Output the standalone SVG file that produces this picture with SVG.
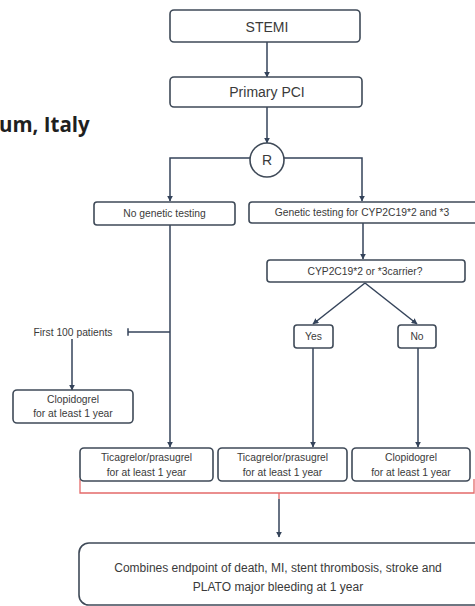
<svg xmlns="http://www.w3.org/2000/svg" width="475" height="606" viewBox="0 0 475 606">
<defs>
<marker id="ah" viewBox="0 0 10 10" refX="9" refY="5" markerWidth="6" markerHeight="6" orient="auto" markerUnits="userSpaceOnUse">
<path d="M0,0 L10,5 L0,10 z" fill="#34435a"/>
</marker>
<marker id="tick" viewBox="0 0 4 10" refX="2" refY="5" markerWidth="3" markerHeight="8" orient="auto" markerUnits="userSpaceOnUse">
<line x1="2" y1="0" x2="2" y2="10" stroke="#34435a" stroke-width="2"/>
</marker>
<style>
.box{fill:#ffffff;stroke:#3f4a58;stroke-width:1.6}
.ln{fill:none;stroke:#34435a;stroke-width:1.5}
.red{fill:none;stroke:#e46a6a;stroke-width:1.3}
.t{font-family:"Liberation Sans",Arial,sans-serif;fill:#3a3a3a;text-anchor:middle}
.big{font-size:14px}
.sm{font-size:10.3px}
.md{font-size:12px}
</style>
</defs>
<rect width="475" height="606" fill="#ffffff"/>
<text x="-1" y="132" font-family="'Open Sans','Liberation Sans',sans-serif" font-weight="bold" font-size="20.5px" fill="#1f1f1f">um, Italy</text>

<g id="connectors">
<line class="ln" x1="267" y1="42" x2="267" y2="77" marker-end="url(#ah)"/>
<line class="ln" x1="267" y1="107" x2="267" y2="143" marker-end="url(#ah)"/>
<polyline class="ln" points="250,158 170,158 170,201" marker-end="url(#ah)"/>
<polyline class="ln" points="284,158 362,158 362,201" marker-end="url(#ah)"/>
<line class="ln" x1="363" y1="223" x2="363" y2="259" marker-end="url(#ah)"/>
<line class="ln" x1="365" y1="283" x2="313" y2="324" marker-end="url(#ah)"/>
<line class="ln" x1="365" y1="283" x2="417" y2="324" marker-end="url(#ah)"/>
<line class="ln" x1="170" y1="225" x2="170" y2="447" marker-end="url(#ah)"/>
<line class="ln" x1="313" y1="348" x2="313" y2="447" marker-end="url(#ah)"/>
<line class="ln" x1="418" y1="348" x2="418" y2="447" marker-end="url(#ah)"/>
<line class="ln" x1="170" y1="332" x2="128" y2="332" marker-end="url(#tick)"/>
<line class="ln" x1="72" y1="339" x2="72" y2="390" marker-end="url(#ah)"/>
<polyline class="red" points="80,479 80,493 474,493 474,479"/>
<line class="red" x1="279" y1="493" x2="279" y2="499"/>
<line class="ln" x1="279" y1="499" x2="279" y2="537" marker-end="url(#ah)"/>
</g>

<g id="stemi">
<rect class="box" x="170" y="10" width="190" height="32" rx="4"/>
<text class="t big" x="267" y="31.5">STEMI</text>
</g>
<g id="primary-pci">
<rect class="box" x="170" y="77" width="192" height="30" rx="4"/>
<text class="t big" x="267" y="97">Primary PCI</text>
</g>
<g id="randomization">
<circle class="box" cx="267" cy="160" r="17"/>
<text class="t big" x="267" y="165">R</text>
</g>
<g id="no-genetic-testing">
<rect class="box" x="94" y="202" width="141" height="23" rx="3"/>
<text class="t sm" x="164.5" y="217">No genetic testing</text>
</g>
<g id="genetic-testing">
<rect class="box" x="249" y="202" width="232" height="21" rx="3"/>
<text class="t sm" x="362" y="216">Genetic testing for CYP2C19*2 and *3</text>
</g>
<g id="carrier">
<rect class="box" x="267" y="260" width="198" height="22" rx="3"/>
<text class="t sm" x="365" y="275" font-size="11px">CYP2C19*2 or *3carrier?</text>
</g>
<g id="yes">
<rect class="box" x="294" y="325" width="39" height="23" rx="3"/>
<text class="t sm" x="313.5" y="340">Yes</text>
</g>
<g id="no">
<rect class="box" x="398" y="325" width="38" height="23" rx="3"/>
<text class="t sm" x="417" y="340">No</text>
</g>
<g id="first-100">
<text class="t sm" x="73" y="336">First 100 patients</text>
</g>
<g id="clopidogrel-first">
<rect class="box" x="13" y="390" width="120" height="33" rx="4"/>
<text class="t sm" x="73" y="402.5">Clopidogrel</text>
<text class="t sm" x="73" y="417">for at least 1 year</text>
</g>
<g id="ticagrelor-1">
<rect class="box" x="80" y="448" width="133" height="33" rx="4"/>
<text class="t sm" x="146.5" y="460.5">Ticagrelor/prasugrel</text>
<text class="t sm" x="146.5" y="475.5">for at least 1 year</text>
</g>
<g id="ticagrelor-2">
<rect class="box" x="218" y="448" width="129" height="33" rx="4"/>
<text class="t sm" x="282.5" y="460.5">Ticagrelor/prasugrel</text>
<text class="t sm" x="282.5" y="475.5">for at least 1 year</text>
</g>
<g id="clopidogrel-2">
<rect class="box" x="352" y="448" width="118" height="33" rx="4"/>
<text class="t sm" x="411" y="460.5">Clopidogrel</text>
<text class="t sm" x="411" y="475.5">for at least 1 year</text>
</g>
<g id="endpoint">
<rect class="box" x="79" y="543" width="410" height="62" rx="10"/>
<text class="t md" x="278" y="572">Combines endpoint of death, MI, stent thrombosis, stroke and</text>
<text class="t md" x="278" y="591">PLATO major bleeding at 1 year</text>
</g>
</svg>
